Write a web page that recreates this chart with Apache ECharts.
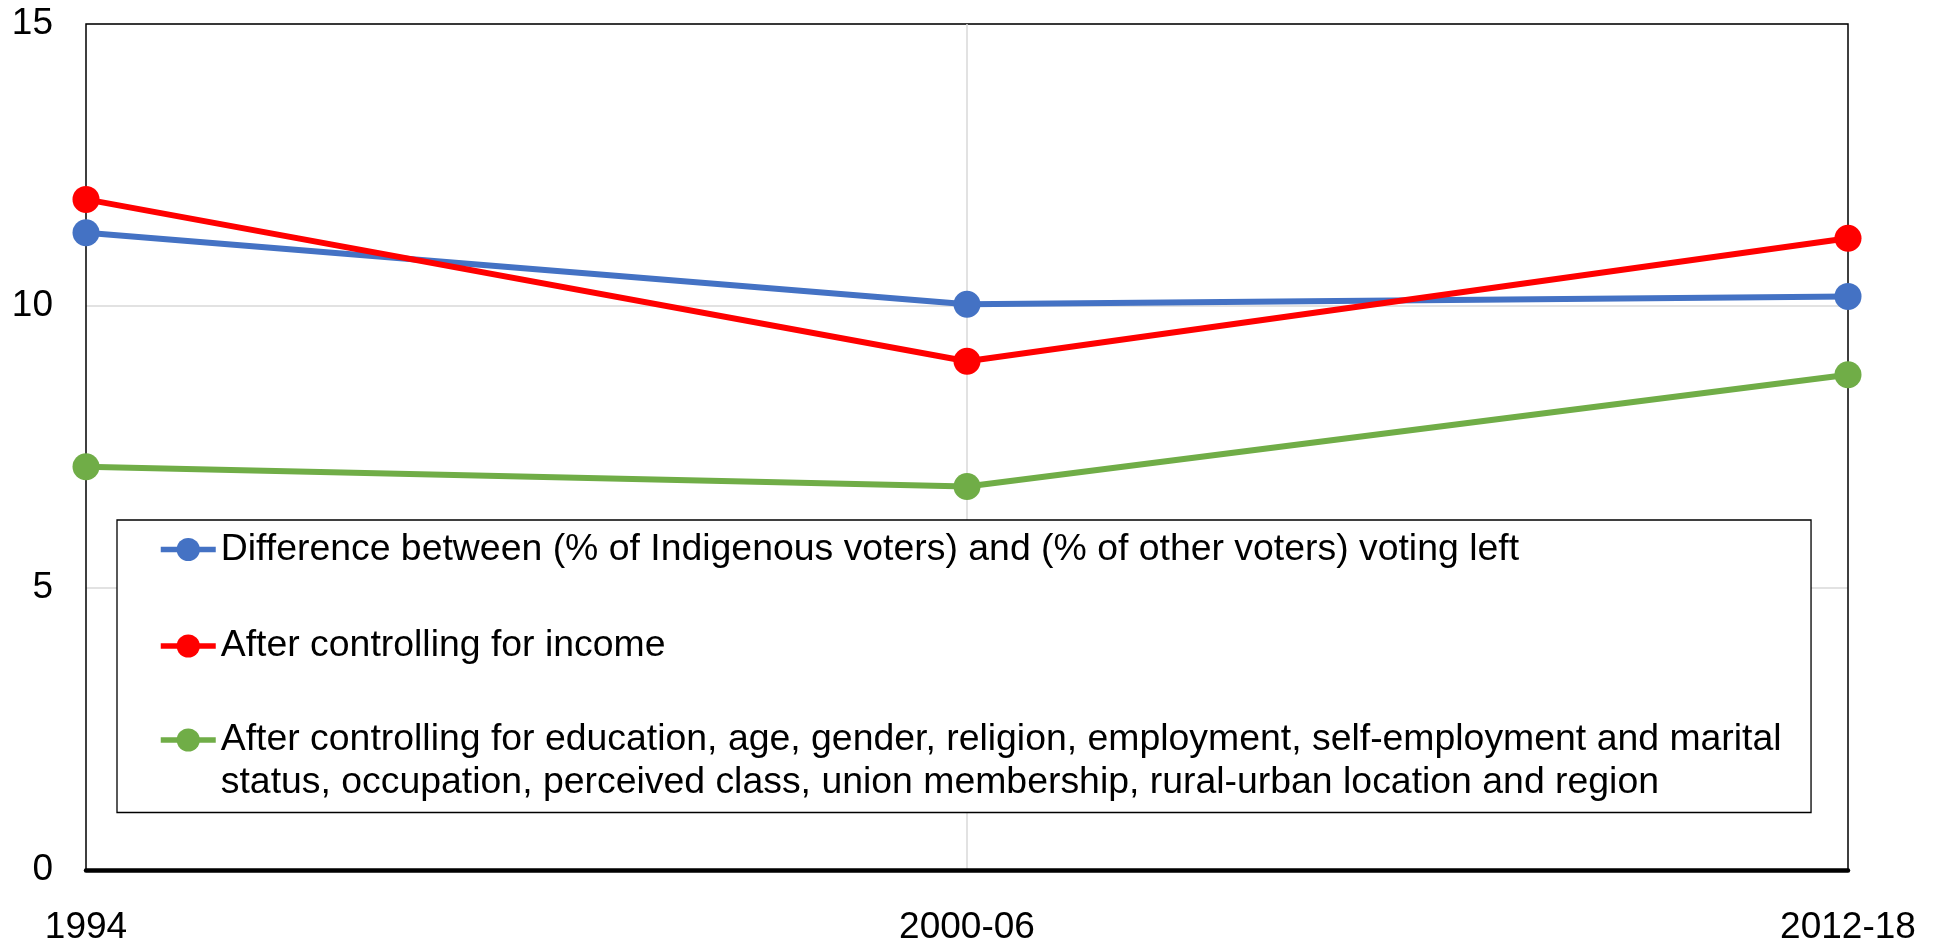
<!DOCTYPE html>
<html>
<head>
<meta charset="utf-8">
<script src="https://cdn.jsdelivr.net/npm/echarts@6/dist/echarts.min.js"></script>
<style>
html,body{margin:0;padding:0;background:#fff;}
#chart{width:1937px;height:946px;}
</style>
</head>
<body>
<div id="chart"></div>
<script>
const categories = ['1994', '2000-06', '2012-18'];
const seriesNames = [
  'Difference between (% of Indigenous voters) and (% of other voters) voting left',
  'After controlling for income',
  'After controlling for education, age, gender, religion, employment, self-employment and marital\nstatus, occupation, perceived class, union membership, rural-urban location and region'
];
const differenceValues = [11.3, 10.03, 10.17];
const incomeValues = [11.89, 9.02, 11.2];
const fullControlsValues = [7.15, 6.8, 8.78];
const colors = ['#4472C4', '#FF0000', '#70AD47'];

const FONT = '"Liberation Sans", Arial, sans-serif';
const LEGEND_FONT = 37.4;
const LEGEND_LH = 43;
const chart = echarts.init(document.getElementById('chart'));

function lineSeries(name, data, color) {
  return {
    name: name,
    type: 'line',
    data: data,
    symbol: 'circle',
    symbolSize: 27,
    lineStyle: { width: 6, color: color },
    itemStyle: { color: color },
    emphasis: { disabled: true },
    animation: false
  };
}

const legendCommon = {
  orient: 'vertical',
  itemWidth: 55, itemHeight: 29, itemGap: 53.5,
  lineStyle: { width: 5.5 },
  textStyle: { fontSize: LEGEND_FONT, lineHeight: LEGEND_LH, color: '#000', fontFamily: FONT },
  selectedMode: false
};

chart.setOption({
  animation: false,
  textStyle: { fontFamily: FONT },
  grid: {
    left: 86, right: 89, top: 24, bottom: 74,
    show: true, borderColor: '#000', borderWidth: 1.5, z: 1
  },
  legend: [
    Object.assign({}, legendCommon, {
      left: 117, top: 520,
      padding: [8, 292, 145, 41],
      backgroundColor: '#fff', borderColor: '#000', borderWidth: 1.3,
      data: [seriesNames[0], seriesNames[1]]
    }),
    Object.assign({}, legendCommon, {
      left: 158, top: 675.5,
      padding: 0,
      z: 5,
      data: [seriesNames[2]],
      formatter: function (name) { return '\n' + name; }
    })
  ],
  xAxis: {
    type: 'category',
    data: categories,
    boundaryGap: false,
    z: 1.5,
    axisLine: { lineStyle: { color: '#000', width: 4.5 } },
    axisTick: { show: false },
    axisLabel: { interval: 0, fontSize: 37, color: '#000', margin: 39, fontFamily: FONT },
    splitLine: { show: true, interval: function (i) { return i === 1; }, lineStyle: { color: '#d9d9d9', width: 1.5 } }
  },
  yAxis: {
    type: 'value',
    min: 0, max: 15, interval: 5,
    axisLine: { show: false },
    axisTick: { show: false },
    axisLabel: { fontSize: 37, color: '#000', margin: 33, fontFamily: FONT },
    splitLine: { show: true, lineStyle: { color: '#d9d9d9', width: 1.5 } }
  },
  series: [
    lineSeries(seriesNames[0], differenceValues, colors[0]),
    lineSeries(seriesNames[1], incomeValues, colors[1]),
    lineSeries(seriesNames[2], fullControlsValues, colors[2])
  ]
});
</script>
</body>
</html>
